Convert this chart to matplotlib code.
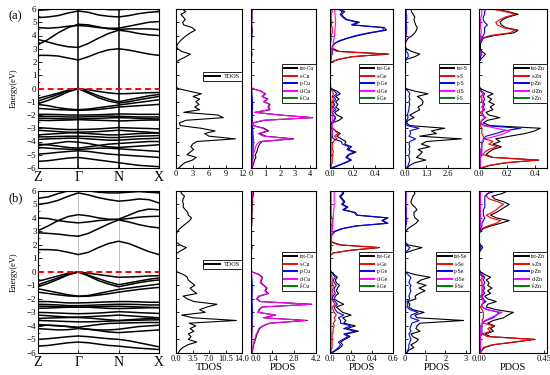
import numpy as np
import matplotlib.pyplot as plt
from matplotlib.ticker import MultipleLocator

plt.rcParams['font.family'] = ['Liberation Serif', 'DejaVu Serif']
plt.rcParams['axes.linewidth'] = 0.8

# sampling grids
kpath = np.linspace(0, 3, 13)                     # Z .. Gamma .. N .. X
kpoints = [0, 1, 2, 3]
klabels = ['Z', 'Γ', 'N', 'X']
energy = np.round(np.arange(-6.0, 6.01, 0.2), 1)  # DOS grid (eV)
energy_coarse = np.arange(-6, 7)                  # grid for the near-zero curves

# ---------------- band structure (a) Cu2ZnGeS4 ----------------
cond_a = [
    [2.5, 2.5, 2.45, 2.3, 2.15, 2.4, 2.7, 2.92, 3.0, 2.9, 2.75, 2.6, 2.5],
    [3.7, 3.5, 3.3, 3.15, 3.1, 3.4, 3.8, 4.15, 4.4, 4.3, 4.15, 4.05, 4.0],
    [3.3, 3.7, 4.2, 4.6, 4.85, 4.8, 4.65, 4.5, 4.45, 4.5, 4.5, 4.5, 4.45],
    [4.6, 4.55, 4.6, 4.7, 4.75, 4.7, 4.6, 4.55, 4.55, 4.7, 4.85, 5.0, 5.05],
    [5.35, 5.4, 5.5, 5.7, 5.85, 5.75, 5.55, 5.45, 5.4, 5.5, 5.65, 5.75, 5.8],
    [5.9, 5.95, 6.05, 6.2, 6.3, 6.2, 6.05, 5.95, 5.95, 6.0, 6.05, 6.0, 5.95],
]
val_a = [
    [-0.75, -0.55, -0.35, -0.12, 0.0, -0.1, -0.22, -0.33, -0.4, -0.38, -0.35, -0.32, -0.3],
    [-0.95, -0.7, -0.45, -0.18, 0.0, -0.25, -0.55, -0.8, -1.0, -0.85, -0.7, -0.55, -0.45],
    [-1.15, -0.9, -0.6, -0.25, -0.02, -0.35, -0.7, -0.95, -1.1, -1.0, -0.85, -0.72, -0.6],
    [-1.2, -1.3, -1.45, -1.55, -1.6, -1.55, -1.45, -1.35, -1.25, -1.15, -1.05, -0.95, -0.85],
    [-1.5, -1.55, -1.6, -1.62, -1.65, -1.62, -1.58, -1.5, -1.4, -1.35, -1.3, -1.25, -1.2],
    [-1.95, -1.95, -1.97, -2.0, -2.0, -2.0, -1.98, -1.95, -1.92, -1.93, -1.95, -1.95, -1.95],
    [-2.1, -2.1, -2.12, -2.15, -2.15, -2.13, -2.1, -2.08, -2.1, -2.12, -2.15, -2.15, -2.15],
    [-2.25, -2.25, -2.28, -2.3, -2.3, -2.28, -2.25, -2.22, -2.2, -2.22, -2.25, -2.28, -2.3],
    [-2.4, -2.42, -2.4, -2.38, -2.35, -2.38, -2.4, -2.42, -2.45, -2.43, -2.4, -2.38, -2.38],
    [-2.95, -3.0, -3.05, -3.1, -3.1, -3.08, -3.05, -3.0, -2.95, -2.98, -3.0, -3.02, -3.05],
    [-3.15, -3.2, -3.25, -3.3, -3.3, -3.28, -3.25, -3.2, -3.15, -3.2, -3.25, -3.3, -3.35],
    [-3.5, -3.45, -3.4, -3.35, -3.35, -3.4, -3.45, -3.5, -3.5, -3.45, -3.4, -3.38, -3.35],
    [-3.65, -3.65, -3.62, -3.6, -3.6, -3.62, -3.65, -3.7, -3.7, -3.65, -3.6, -3.58, -3.55],
    [-3.85, -3.8, -3.78, -3.75, -3.75, -3.8, -3.85, -3.9, -3.9, -3.85, -3.8, -3.78, -3.75],
    [-4.2, -4.25, -4.35, -4.45, -4.5, -4.4, -4.3, -4.2, -4.15, -4.1, -4.05, -4.0, -4.0],
    [-4.3, -4.2, -4.1, -4.0, -4.05, -4.15, -4.3, -4.4, -4.45, -4.4, -4.35, -4.3, -4.25],
    [-4.45, -4.5, -4.55, -4.58, -4.6, -4.55, -4.5, -4.5, -4.55, -4.6, -4.65, -4.7, -4.75],
    [-4.95, -4.9, -4.82, -4.75, -4.7, -4.75, -4.85, -4.95, -5.0, -5.05, -5.1, -5.15, -5.2],
    [-5.5, -5.45, -5.35, -5.25, -5.2, -5.3, -5.4, -5.5, -5.6, -5.7, -5.8, -5.85, -5.9],
]

# ---------------- band structure (b) Cu2ZnGeSe4 ----------------
cond_b = [
    [1.65, 1.65, 1.6, 1.45, 1.28, 1.45, 1.8, 2.1, 2.27, 2.1, 1.8, 1.5, 1.28],
    [2.9, 2.85, 2.8, 2.7, 2.64, 2.85, 3.2, 3.55, 3.85, 3.7, 3.5, 3.35, 3.26],
    [3.05, 3.4, 3.8, 4.1, 4.24, 4.15, 4.0, 3.9, 3.88, 3.95, 4.05, 4.1, 4.12],
    [4.0, 3.95, 3.8, 3.7, 3.63, 3.7, 3.8, 3.85, 3.9, 4.2, 4.5, 4.65, 4.6],
    [5.0, 5.1, 5.3, 5.6, 5.85, 5.7, 5.5, 5.35, 5.24, 5.3, 5.4, 5.35, 5.1],
    [5.45, 5.55, 5.8, 6.0, 6.1, 6.0, 5.9, 5.85, 5.85, 5.9, 5.95, 5.9, 5.85],
]
val_b = [
    [-0.7, -0.5, -0.3, -0.1, 0.0, -0.1, -0.2, -0.3, -0.4, -0.38, -0.35, -0.3, -0.28],
    [-0.95, -0.7, -0.45, -0.18, 0.0, -0.25, -0.5, -0.75, -0.95, -0.82, -0.68, -0.55, -0.45],
    [-1.1, -0.85, -0.55, -0.22, -0.02, -0.3, -0.65, -0.9, -1.1, -0.95, -0.8, -0.68, -0.6],
    [-1.25, -1.4, -1.55, -1.7, -1.8, -1.75, -1.6, -1.45, -1.3, -1.2, -1.1, -1.0, -0.9],
    [-1.5, -1.6, -1.7, -1.78, -1.82, -1.8, -1.72, -1.62, -1.5, -1.4, -1.3, -1.22, -1.15],
    [-2.2, -2.2, -2.25, -2.3, -2.3, -2.28, -2.25, -2.22, -2.2, -2.2, -2.22, -2.25, -2.25],
    [-2.4, -2.42, -2.45, -2.5, -2.5, -2.48, -2.45, -2.42, -2.4, -2.4, -2.42, -2.45, -2.45],
    [-2.55, -2.55, -2.58, -2.6, -2.62, -2.6, -2.58, -2.55, -2.55, -2.57, -2.6, -2.62, -2.65],
    [-2.7, -2.68, -2.65, -2.62, -2.6, -2.62, -2.66, -2.7, -2.72, -2.7, -2.68, -2.66, -2.65],
    [-3.0, -3.02, -3.05, -3.08, -3.1, -3.08, -3.05, -3.0, -2.95, -2.98, -3.02, -3.05, -3.08],
    [-3.2, -3.25, -3.3, -3.35, -3.35, -3.32, -3.28, -3.25, -3.2, -3.25, -3.3, -3.35, -3.4],
    [-3.45, -3.42, -3.4, -3.38, -3.38, -3.42, -3.48, -3.55, -3.6, -3.55, -3.5, -3.45, -3.4],
    [-3.6, -3.62, -3.65, -3.68, -3.7, -3.7, -3.68, -3.65, -3.62, -3.6, -3.58, -3.56, -3.55],
    [-3.9, -3.95, -4.0, -4.05, -4.1, -4.0, -3.9, -3.82, -3.8, -3.78, -3.76, -3.75, -3.75],
    [-4.0, -3.95, -3.98, -4.05, -4.15, -4.25, -4.3, -4.3, -4.25, -4.15, -4.05, -4.0, -3.95],
    [-4.2, -4.25, -4.3, -4.28, -4.2, -4.25, -4.35, -4.45, -4.5, -4.45, -4.4, -4.35, -4.3],
    [-5.0, -4.95, -4.88, -4.8, -4.75, -4.8, -4.88, -4.95, -5.0, -5.1, -5.25, -5.4, -5.55],
    [-5.5, -5.45, -5.35, -5.25, -5.2, -5.25, -5.35, -5.45, -5.5, -5.58, -5.65, -5.7, -5.75],
]

# ---------------- DOS (a), values on `energy` (-6 .. 6 eV, step 0.2) ----------------
tdos_a = [0.5, 1.0, 1.6, 3.0, 3.7, 2.0, 2.6, 3.2, 2.7, 3.0,
          3.8, 10.8, 6.0, 5.2, 7.1, 4.5, 0.8, 0.6, 1.8, 8.6,
          7.6, 1.4, 4.3, 3.4, 4.2, 3.6, 4.3, 3.1, 4.6, 2.4,
          0.3, 0, 0, 0, 0, 0, 0, 0, 0, 0,
          0, 0.8, 1.8, 2.6, 1.0, 0.3, 0.1, 0.4, 0.8, 1.3,
          1.9, 2.6, 3.5, 2.9, 1.4, 1.2, 1.7, 1.3, 0.9, 1.8, 1.1]
tot_cu_a = [0.1, 0.15, 0.2, 0.25, 0.35, 0.3, 0.4, 0.45, 0.5, 0.6,
            0.75, 2.9, 1.0, 0.6, 1.2, 0.9, 0.15, 0.15, 0.9, 4.2,
            2.0, 0.3, 1.3, 1.2, 1.3, 0.9, 1.15, 0.8, 1.0, 0.7,
            0.1, 0, 0, 0, 0, 0, 0, 0, 0, 0,
            0, 0.03, 0.05, 0.08, 0.04, 0.02, 0.02, 0.03, 0.05, 0.06,
            0.07, 0.08, 0.1, 0.08, 0.05, 0.05, 0.06, 0.07, 0.05, 0.08, 0.06]
d_cu_a = [0.05, 0.08, 0.1, 0.12, 0.18, 0.15, 0.22, 0.28, 0.32, 0.42,
          0.6, 2.75, 0.85, 0.5, 1.1, 0.8, 0.1, 0.1, 0.85, 4.15,
          1.9, 0.25, 1.25, 1.15, 1.25, 0.85, 1.1, 0.75, 0.95, 0.65,
          0.08, 0, 0, 0, 0, 0, 0, 0, 0, 0,
          0, 0.01, 0.02, 0.03, 0.02, 0.01, 0.01, 0.02, 0.03, 0.03,
          0.04, 0.05, 0.06, 0.05, 0.03, 0.03, 0.04, 0.04, 0.03, 0.05, 0.04]
s_cu_a = [0.08, 0.15, 0.2, 0.12, 0.05, 0.03, 0.02, 0, 0, 0.05, 0.04, 0.06, 0.08]
p_cu_a = [0.05, 0.08, 0.1, 0.1, 0.1, 0.12, 0.05, 0, 0, 0.04, 0.06, 0.05, 0.07]
f_cu_a = [0.01, 0.01, 0.01, 0.01, 0.01, 0.01, 0.01, 0.01, 0.01, 0.01, 0.01, 0.01, 0.01]

tot_ge_a = [0.02, 0.08, 0.14, 0.19, 0.15, 0.17, 0.23, 0.16, 0.19, 0.13,
            0.14, 0.1, 0.06, 0.09, 0.05, 0.02, 0.01, 0.02, 0.08, 0.11,
            0.06, 0.04, 0.08, 0.05, 0.07, 0.05, 0.08, 0.05, 0.09, 0.06,
            0.01, 0, 0, 0, 0, 0, 0, 0, 0, 0,
            0.01, 0.08, 0.2, 0.52, 0.08, 0.03, 0.02, 0.04, 0.09, 0.16,
            0.25, 0.36, 0.5, 0.48, 0.2, 0.26, 0.15, 0.12, 0.1, 0.13, 0.08]
s_ge_a = [0.01, 0.01, 0.02, 0.02, 0.02, 0.02, 0.03, 0.02, 0.02, 0.02,
          0.03, 0.06, 0.04, 0.07, 0.05, 0.02, 0.01, 0.01, 0.03, 0.05,
          0.03, 0.02, 0.03, 0.02, 0.03, 0.02, 0.03, 0.02, 0.03, 0.02,
          0, 0, 0, 0, 0, 0, 0, 0, 0, 0,
          0.01, 0.07, 0.19, 0.5, 0.06, 0.01, 0, 0, 0.01, 0.01,
          0.01, 0.02, 0.02, 0.02, 0.01, 0.02, 0.01, 0.01, 0.01, 0.02, 0.01]
p_ge_a = [0.01, 0.07, 0.13, 0.18, 0.14, 0.16, 0.21, 0.15, 0.17, 0.11,
          0.1, 0.03, 0.02, 0.02, 0.02, 0.01, 0, 0.01, 0.04, 0.05,
          0.03, 0.02, 0.05, 0.03, 0.04, 0.03, 0.05, 0.03, 0.06, 0.04,
          0.01, 0, 0, 0, 0, 0, 0, 0, 0, 0,
          0, 0.01, 0.01, 0.02, 0.02, 0.02, 0.02, 0.04, 0.08, 0.15,
          0.23, 0.34, 0.48, 0.46, 0.19, 0.24, 0.14, 0.11, 0.09, 0.11, 0.07]
d_ge_a = [0.005, 0.01, 0.01, 0.02, 0.02, 0.01, 0.0, 0.0, 0.0, 0.02, 0.04, 0.05, 0.04]
f_ge_a = [0.003, 0.003, 0.003, 0.003, 0.003, 0.003, 0.003, 0.003, 0.003, 0.003, 0.003, 0.003, 0.003]

tot_s_a = [0.15, 0.3, 0.6, 1.25, 0.7, 0.9, 1.05, 0.8, 1.5, 1.0,
           1.3, 3.4, 0.9, 1.9, 1.6, 2.4, 0.3, 0.1, 0.2, 0.55,
           0.3, 0.6, 0.9, 0.8, 1.05, 1.1, 1.0, 0.75, 1.4, 0.6,
           0.05, 0, 0, 0, 0, 0, 0, 0, 0, 0,
           0, 0.1, 0.6, 0.9, 0.4, 0.1, 0.02, 0.03, 0.1, 0.2,
           0.45, 0.6, 0.7, 0.75, 0.65, 0.6, 0.55, 0.6, 0.5, 0.4, 0.35]
p_s_a = [0.1, 0.2, 0.25, 0.3, 0.25, 0.25, 0.3, 0.25, 0.3, 0.25,
         0.3, 0.65, 0.25, 0.35, 0.3, 0.85, 0.15, 0.05, 0.1, 0.2,
         0.15, 0.2, 0.25, 0.25, 0.3, 0.25, 0.3, 0.25, 0.3, 0.2,
         0.02, 0, 0, 0, 0, 0, 0, 0, 0, 0,
         0, 0.05, 0.2, 0.2, 0.1, 0.03, 0.01, 0.01, 0.03, 0.05,
         0.08, 0.1, 0.1, 0.12, 0.1, 0.08, 0.1, 0.12, 0.1, 0.08, 0.1]
s_s_a = [0.02, 0.03, 0.02, 0.02, 0.02, 0.02, 0.0, 0, 0, 0.02, 0.01, 0.01, 0.02]
d_s_a = [0.02, 0.03, 0.04, 0.04, 0.03, 0.03, 0.0, 0, 0, 0.03, 0.06, 0.05, 0.05]
f_s_a = [0.01, 0.01, 0.01, 0.01, 0.01, 0.01, 0.01, 0.01, 0.01, 0.01, 0.01, 0.01, 0.01]

tot_zn_a = [0.02, 0.08, 0.2, 0.43, 0.1, 0.05, 0.07, 0.1, 0.16, 0.1,
            0.15, 0.12, 0.22, 0.33, 0.4, 0.44, 0.08, 0.03, 0.06, 0.15,
            0.07, 0.05, 0.1, 0.08, 0.11, 0.07, 0.09, 0.06, 0.1, 0.05,
            0.01, 0, 0, 0, 0, 0, 0, 0, 0, 0,
            0, 0.01, 0.03, 0.045, 0.02, 0.01, 0.01, 0.01, 0.02, 0.03,
            0.11, 0.25, 0.28, 0.19, 0.16, 0.15, 0.17, 0.21, 0.28, 0.21, 0.11]
s_zn_a = [0.01, 0.07, 0.19, 0.42, 0.09, 0.03, 0.04, 0.07, 0.13, 0.07,
          0.1, 0.04, 0.03, 0.02, 0.02, 0.02, 0.01, 0.01, 0.02, 0.05,
          0.02, 0.01, 0.03, 0.02, 0.03, 0.02, 0.02, 0.01, 0.03, 0.01,
          0, 0, 0, 0, 0, 0, 0, 0, 0, 0,
          0, 0, 0.01, 0.02, 0.01, 0, 0, 0, 0.01, 0.02,
          0.08, 0.22, 0.26, 0.17, 0.13, 0.12, 0.15, 0.19, 0.26, 0.19, 0.09]
p_zn_a = [0.01, 0.01, 0.01, 0.01, 0.01, 0.02, 0.02, 0.02, 0.02, 0.02,
          0.03, 0.03, 0.05, 0.12, 0.18, 0.3, 0.04, 0.01, 0.02, 0.04,
          0.03, 0.02, 0.04, 0.03, 0.04, 0.03, 0.04, 0.03, 0.04, 0.02,
          0, 0, 0, 0, 0, 0, 0, 0, 0, 0,
          0, 0.01, 0.01, 0.015, 0.01, 0, 0, 0, 0.01, 0.02,
          0.03, 0.04, 0.04, 0.04, 0.06, 0.04, 0.03, 0.03, 0.04, 0.04, 0.05]
d_zn_a = [0.005, 0.01, 0.01, 0.01, 0.01, 0.01, 0.01, 0.01, 0.02, 0.02,
          0.02, 0.04, 0.12, 0.18, 0.22, 0.12, 0.03, 0.01, 0.02, 0.04,
          0.02, 0.02, 0.03, 0.02, 0.03, 0.02, 0.02, 0.02, 0.03, 0.01,
          0, 0, 0, 0, 0, 0, 0, 0, 0, 0,
          0, 0, 0.005, 0.01, 0.005, 0, 0, 0, 0.005, 0.01,
          0.01, 0.015, 0.015, 0.01, 0.01, 0.01, 0.01, 0.015, 0.02, 0.02, 0.02]
f_zn_a = [0.002, 0.002, 0.002, 0.002, 0.002, 0.002, 0.002, 0.002, 0.002, 0.002, 0.002, 0.002, 0.002]

# ---------------- DOS (b) ----------------
tdos_b = [0.5, 0.8, 1.5, 2.5, 4.4, 2.6, 3.2, 2.6, 3.8, 3.0,
          4.2, 2.8, 12.8, 3.5, 1.2, 6.2, 5.0, 6.6, 8.7, 3.8,
          2.4, 1.5, 4.4, 3.6, 3.0, 4.0, 3.3, 2.6, 2.4, 1.6,
          0.2, 0, 0, 0, 0, 0, 0, 0.2, 1.2, 2.2,
          0.8, 0.1, 0, 0, 0.1, 0.3, 0.8, 1.5, 2.2, 2.9,
          3.3, 2.6, 2.5, 2.0, 1.5, 1.6, 1.4, 1.5, 1.8, 1.2, 0.9]
tot_cu_b = [0.08, 0.12, 0.15, 0.18, 0.24, 0.3, 0.35, 0.4, 0.5, 0.55,
            0.8, 1.25, 3.65, 0.85, 1.6, 0.5, 0.55, 0.75, 3.95, 0.65,
            0.4, 0.55, 1.15, 0.95, 1.05, 0.85, 0.65, 0.7, 0.75, 0.55,
            0.08, 0, 0, 0, 0, 0, 0, 0.02, 0.05, 0.08,
            0.04, 0.02, 0.01, 0.01, 0.02, 0.03, 0.04, 0.05, 0.06, 0.07,
            0.08, 0.07, 0.08, 0.09, 0.08, 0.1, 0.12, 0.1, 0.14, 0.18, 0.15]
d_cu_b = [0.05, 0.1, 0.12, 0.15, 0.2, 0.25, 0.3, 0.35, 0.45, 0.5,
          0.75, 1.2, 3.55, 0.8, 1.55, 0.45, 0.5, 0.7, 3.9, 0.6,
          0.35, 0.5, 1.1, 0.9, 1.0, 0.8, 0.6, 0.65, 0.7, 0.5,
          0.05, 0, 0, 0, 0, 0, 0, 0.01, 0.03, 0.04,
          0.02, 0.01, 0, 0, 0.01, 0.01, 0.02, 0.02, 0.03, 0.03,
          0.04, 0.03, 0.04, 0.04, 0.04, 0.05, 0.05, 0.04, 0.06, 0.07, 0.06]
s_cu_b = [0.04, 0.06, 0.08, 0.06, 0.03, 0.02, 0.02, 0, 0.02, 0.04, 0.05, 0.07, 0.15]
p_cu_b = [0.03, 0.05, 0.08, 0.1, 0.08, 0.1, 0.04, 0, 0.01, 0.03, 0.04, 0.05, 0.06]
f_cu_b = [0.01, 0.01, 0.01, 0.01, 0.01, 0.01, 0.01, 0.01, 0.01, 0.01, 0.01, 0.01, 0.01]

tot_ge_b = [0.02, 0.06, 0.1, 0.12, 0.1, 0.14, 0.19, 0.15, 0.27, 0.16,
            0.24, 0.13, 0.15, 0.12, 0.2, 0.12, 0.09, 0.06, 0.13, 0.08,
            0.04, 0.05, 0.08, 0.06, 0.07, 0.09, 0.06, 0.05, 0.07, 0.04,
            0.01, 0, 0, 0, 0, 0, 0, 0.03, 0.2, 0.47,
            0.1, 0.02, 0.01, 0.01, 0.02, 0.05, 0.12, 0.25, 0.55, 0.5,
            0.55, 0.26, 0.24, 0.13, 0.17, 0.12, 0.14, 0.12, 0.1, 0.13, 0.12]
s_ge_b = [0.01, 0.01, 0.02, 0.02, 0.02, 0.02, 0.02, 0.02, 0.03, 0.03,
          0.04, 0.03, 0.05, 0.04, 0.06, 0.04, 0.03, 0.02, 0.05, 0.03,
          0.02, 0.02, 0.03, 0.02, 0.03, 0.03, 0.02, 0.02, 0.02, 0.01,
          0, 0, 0, 0, 0, 0, 0, 0.03, 0.19, 0.46,
          0.08, 0.01, 0, 0, 0, 0.01, 0.01, 0.01, 0.02, 0.02,
          0.02, 0.01, 0.01, 0.01, 0.01, 0.01, 0.01, 0.01, 0.01, 0.01, 0.01]
p_ge_b = [0.01, 0.05, 0.08, 0.1, 0.08, 0.12, 0.17, 0.13, 0.24, 0.13,
          0.2, 0.1, 0.1, 0.08, 0.13, 0.07, 0.05, 0.04, 0.07, 0.05,
          0.02, 0.03, 0.05, 0.04, 0.04, 0.06, 0.04, 0.03, 0.05, 0.03,
          0.01, 0, 0, 0, 0, 0, 0, 0, 0.01, 0.01,
          0.01, 0.01, 0.01, 0.01, 0.02, 0.04, 0.11, 0.24, 0.54, 0.49,
          0.54, 0.25, 0.23, 0.12, 0.16, 0.11, 0.13, 0.11, 0.09, 0.12, 0.11]
d_ge_b = [0.005, 0.01, 0.01, 0.01, 0.01, 0.01, 0, 0, 0.01, 0.02, 0.03, 0.04, 0.04]
f_ge_b = [0.003, 0.003, 0.003, 0.003, 0.003, 0.003, 0.003, 0.003, 0.003, 0.003, 0.003, 0.003, 0.003]

tot_se_b = [0.1, 0.2, 0.45, 0.3, 0.55, 0.67, 0.4, 0.3, 0.75, 0.55,
            0.6, 0.75, 2.9, 0.6, 0.5, 0.95, 0.4, 0.2, 0.25, 0.15,
            0.55, 0.5, 0.7, 1.0, 0.7, 1.05, 0.6, 0.8, 1.25, 0.5,
            0.05, 0, 0, 0, 0, 0, 0, 0.02, 0.4, 0.85,
            0.15, 0.02, 0, 0, 0.02, 0.05, 0.15, 0.35, 0.55, 0.67,
            0.5, 0.45, 0.45, 0.6, 0.5, 0.35, 0.3, 0.35, 0.4, 0.5, 0.45]
p_se_b = [0.08, 0.15, 0.2, 0.2, 0.25, 0.3, 0.25, 0.2, 0.3, 0.25,
          0.3, 0.35, 0.7, 0.3, 0.3, 0.65, 0.25, 0.1, 0.15, 0.1,
          0.25, 0.2, 0.25, 0.3, 0.25, 0.3, 0.2, 0.25, 0.3, 0.15,
          0.02, 0, 0, 0, 0, 0, 0, 0.01, 0.15, 0.25,
          0.05, 0.01, 0, 0, 0.01, 0.01, 0.03, 0.05, 0.08, 0.1,
          0.08, 0.07, 0.07, 0.08, 0.07, 0.05, 0.05, 0.06, 0.06, 0.07, 0.06]
s_se_b = [0.02, 0.03, 0.02, 0.02, 0.02, 0.02, 0.0, 0, 0.01, 0.01, 0.01, 0.01, 0.02]
d_se_b = [0.02, 0.03, 0.03, 0.04, 0.03, 0.03, 0.0, 0, 0.01, 0.03, 0.05, 0.05, 0.05]
f_se_b = [0.01, 0.01, 0.01, 0.01, 0.01, 0.01, 0.01, 0.01, 0.01, 0.01, 0.01, 0.01, 0.01]

tot_zn_b = [0.01, 0.02, 0.04, 0.1, 0.25, 0.39, 0.08, 0.04, 0.1, 0.08,
            0.11, 0.06, 0.1, 0.17, 0.2, 0.24, 0.12, 0.05, 0.06, 0.12,
            0.06, 0.04, 0.08, 0.06, 0.09, 0.06, 0.07, 0.05, 0.08, 0.04,
            0.01, 0, 0, 0, 0, 0, 0, 0, 0.01, 0.025,
            0.01, 0, 0, 0, 0, 0.01, 0.03, 0.08, 0.15, 0.21,
            0.12, 0.08, 0.12, 0.15, 0.18, 0.21, 0.17, 0.11, 0.09, 0.16, 0.2]
s_zn_b = [0.01, 0.02, 0.03, 0.09, 0.24, 0.38, 0.06, 0.02, 0.08, 0.06,
          0.1, 0.03, 0.02, 0.03, 0.03, 0.03, 0.02, 0.01, 0.02, 0.05,
          0.02, 0.01, 0.03, 0.02, 0.03, 0.02, 0.02, 0.01, 0.03, 0.01,
          0, 0, 0, 0, 0, 0, 0, 0, 0.005, 0.015,
          0.005, 0, 0, 0, 0, 0.005, 0.02, 0.06, 0.12, 0.15,
          0.08, 0.05, 0.09, 0.12, 0.14, 0.17, 0.13, 0.07, 0.05, 0.06, 0.08]
p_zn_b = [0, 0.01, 0.01, 0.01, 0.01, 0.01, 0.01, 0.02, 0.02, 0.02,
          0.02, 0.02, 0.05, 0.1, 0.12, 0.14, 0.06, 0.02, 0.02, 0.04,
          0.03, 0.02, 0.04, 0.03, 0.04, 0.03, 0.04, 0.03, 0.04, 0.02,
          0, 0, 0, 0, 0, 0, 0, 0, 0.005, 0.01,
          0.005, 0, 0, 0, 0, 0.005, 0.01, 0.02, 0.02, 0.03,
          0.04, 0.03, 0.03, 0.03, 0.04, 0.04, 0.04, 0.04, 0.04, 0.06, 0.12]
d_zn_b = [0.005, 0.005, 0.01, 0.01, 0.01, 0.01, 0.01, 0.01, 0.01, 0.01,
          0.01, 0.02, 0.04, 0.08, 0.12, 0.16, 0.05, 0.02, 0.02, 0.03,
          0.02, 0.01, 0.02, 0.02, 0.02, 0.02, 0.02, 0.02, 0.02, 0.01,
          0, 0, 0, 0, 0, 0, 0, 0, 0, 0.005,
          0, 0, 0, 0, 0, 0, 0.005, 0.01, 0.01, 0.01,
          0.01, 0.01, 0.01, 0.01, 0.01, 0.01, 0.01, 0.01, 0.01, 0.01, 0.01]
f_zn_b = [0.002, 0.002, 0.002, 0.002, 0.002, 0.002, 0.002, 0.002, 0.002, 0.002, 0.002, 0.002, 0.002]

orbital_colors = ['black', 'red', 'blue', 'magenta', 'green']

rows = [
    dict(tag='(a)', cond=cond_a, val=val_a, kline='black', klw=1.1,
         tdos=tdos_a, tdos_lim=12, tdos_ticks=[0, 3, 6, 9, 12],
         tdos_labels=['0', '3', '6', '9', '12'],
         pdos=[
             ('Cu', [tot_cu_a, s_cu_a, p_cu_a, d_cu_a, f_cu_a], 4.4,
              [0, 1, 2, 3, 4], ['0', '1', '2', '3', '4']),
             ('Ge', [tot_ge_a, s_ge_a, p_ge_a, d_ge_a, f_ge_a], 0.56,
              [0, 0.2, 0.4], ['0.0', '0.2', '0.4']),
             ('S', [tot_s_a, s_s_a, p_s_a, d_s_a, f_s_a], 3.9,
              [0, 1.3, 2.6], ['0.0', '1.3', '2.6']),
             ('Zn', [tot_zn_a, s_zn_a, p_zn_a, d_zn_a, f_zn_a], 0.49,
              [0, 0.2, 0.4], ['0.0', '0.2', '0.4']),
         ],
         xlabels=False, leg_y=0.53, tleg_y=0.575),
    dict(tag='(b)', cond=cond_b, val=val_b, kline='#c0c0c0', klw=0.7,
         tdos=tdos_b, tdos_lim=14, tdos_ticks=[0, 3.5, 7, 10.5, 14],
         tdos_labels=['0.0', '3.5', '7.0', '10.5', '14.0'],
         pdos=[
             ('Cu', [tot_cu_b, s_cu_b, p_cu_b, d_cu_b, f_cu_b], 4.2,
              [0, 1.4, 2.8, 4.2], ['0.0', '1.4', '2.8', '4.2']),
             ('Ge', [tot_ge_b, s_ge_b, p_ge_b, d_ge_b, f_ge_b], 0.6,
              [0, 0.2, 0.4, 0.6], ['0.0', '0.2', '0.4', '0.6']),
             ('Se', [tot_se_b, s_se_b, p_se_b, d_se_b, f_se_b], 3.2,
              [0, 1, 2, 3], ['0', '1', '2', '3']),
             ('Zn', [tot_zn_b, s_zn_b, p_zn_b, d_zn_b, f_zn_b], 0.475,
              [0, 0.45], ['0.00', '0.45']),
         ],
         xlabels=True, leg_y=0.50, tleg_y=0.545),
]

row_bottom = [0.552, 0.059]
row_height = [0.424, 0.432]
col_left = [0.069, 0.320, 0.456, 0.600, 0.736, 0.871]
col_width = [0.220, 0.120, 0.118, 0.115, 0.118, 0.124]


def dos_axes(ax, xmax, ticks, labels, xlabel):
    ax.set_xlim(0, xmax)
    ax.set_ylim(-6, 6)
    ax.set_xticks(ticks)
    ax.set_xticklabels(labels)
    ax.set_yticks(np.arange(-6, 7, 1))
    ax.set_yticklabels([])
    ax.tick_params(direction='in', length=2, width=0.6, labelsize=6, pad=1.5)
    if xlabel:
        ax.set_xlabel(xlabel, fontsize=7.5, labelpad=0)


def small_legend(ax, y, fontsize):
    leg = ax.legend(loc='center right', bbox_to_anchor=(1.0, y), borderaxespad=0,
                    fontsize=fontsize, frameon=True, fancybox=False, framealpha=1,
                    edgecolor='black', handlelength=2.4, handletextpad=0.5,
                    labelspacing=0.45, borderpad=0.35)
    leg.get_frame().set_linewidth(0.6)
    for line in leg.get_lines():
        line.set_linewidth(1.4)


fig = plt.figure(figsize=(5.5, 3.75), dpi=100)

for r, row in enumerate(rows):
    b, h = row_bottom[r], row_height[r]

    # band structure
    ax = fig.add_axes([col_left[0], b, col_width[0], h])
    for k in kpoints[1:3]:
        ax.axvline(k, color=row['kline'], lw=row['klw'], zorder=1)
    for band in row['cond'] + row['val']:
        ax.plot(kpath, band, color='black', lw=1.1, zorder=2)
    ax.axhline(0, color='red', ls=(0, (3, 2)), lw=1.4, zorder=3)
    ax.set_xlim(0, 3)
    ax.set_ylim(-6, 6)
    ax.set_xticks(kpoints)
    ax.set_xticklabels(klabels, fontsize=10)
    ax.set_yticks(np.arange(-6, 7, 1))
    ax.yaxis.set_minor_locator(MultipleLocator(0.5))
    ax.tick_params(axis='y', which='major', direction='in', length=3, width=0.6,
                   labelsize=6.5, pad=1)
    ax.tick_params(axis='y', which='minor', direction='in', length=1.5, width=0.5)
    ax.tick_params(axis='x', direction='in', length=2.5, width=0.6, pad=2)
    ax.set_ylabel('Energy(eV)', fontsize=6, labelpad=7)
    fig.text(0.015, b + h - 0.02, row['tag'], fontsize=9, va='center', ha='left')

    # total DOS
    ax = fig.add_axes([col_left[1], b, col_width[1], h])
    ax.plot(row['tdos'], energy, color='black', lw=0.8, label='TDOS')
    dos_axes(ax, row['tdos_lim'], row['tdos_ticks'], row['tdos_labels'],
             'TDOS' if row['xlabels'] else None)
    small_legend(ax, row['tleg_y'], 4.5)

    # partial DOS
    for c, (elem, curves, xmax, ticks, labels) in enumerate(row['pdos']):
        ax = fig.add_axes([col_left[c + 2], b, col_width[c + 2], h])
        for orb, vals, color in zip(['tot', 's', 'p', 'd', 'f'], curves, orbital_colors):
            grid = energy_coarse if len(vals) == len(energy_coarse) else energy
            ax.plot(vals, grid, color=color, lw=0.8, label=f'{orb}-{elem}')
        dos_axes(ax, xmax, ticks, labels, 'PDOS' if row['xlabels'] else None)
        if c == 0 and row['xlabels']:
            # keep "0.0" clear of the TDOS panel's "14.0"
            ax.get_xticklabels()[0].set_horizontalalignment('left')
        small_legend(ax, row['leg_y'], 4)

fig.savefig('out.png', dpi=100)
